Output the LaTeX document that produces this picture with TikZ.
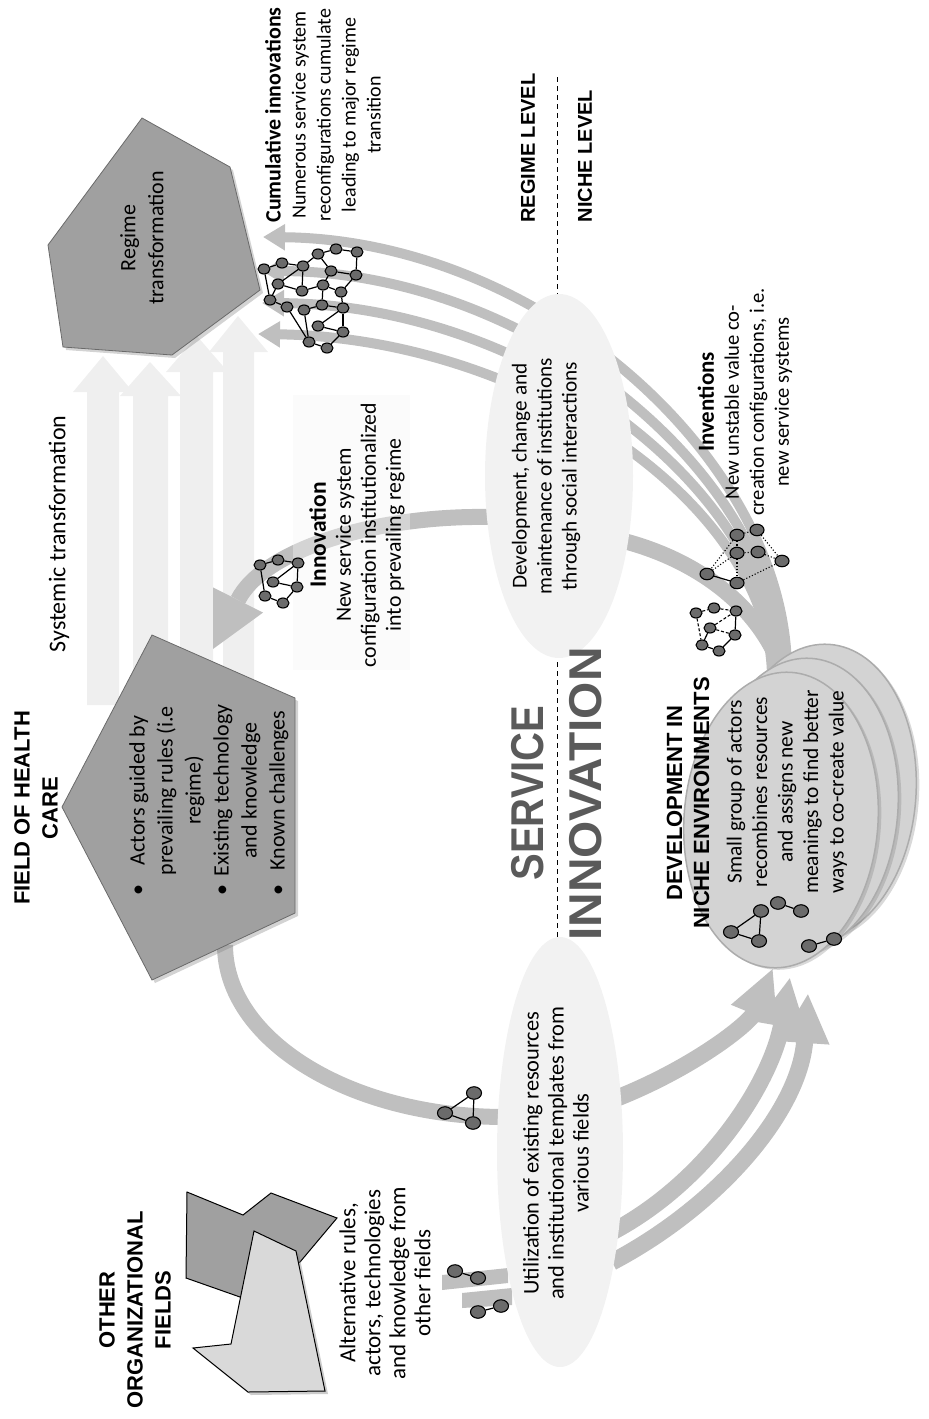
\documentclass[tikz,border=0pt]{standalone}
\usepackage{fontspec}
\setmainfont{Carlito}
\newfontfamily\arialfont{Liberation Sans}
\usetikzlibrary{shapes.geometric,arrows.meta,shadows,calc}

\definecolor{bandgray}{HTML}{BFBFBF}
\definecolor{pentfill}{HTML}{A0A0A0}
\definecolor{pentline}{HTML}{6A6A6A}
\definecolor{ovalfill}{HTML}{F2F2F2}
\definecolor{nichefill}{HTML}{D3D3D3}
\definecolor{nicheline}{HTML}{ACACAC}
\definecolor{netgray}{HTML}{6B6B6B}
\definecolor{stripefill}{HTML}{EFEFEF}
\definecolor{panelfill}{HTML}{F4F4F4}
\definecolor{titlegray}{HTML}{5A5A5A}
\definecolor{lightfield}{HTML}{D9D9D9}

\newcommand{\fsz}[1]{\fontsize{#1}{25}\selectfont}

\begin{document}
\begin{tikzpicture}[x=1pt,y=-1pt,
  txt/.style={rotate=90, align=center, font=\fsz{21}, inner sep=0pt},
  captitle/.style={rotate=90, align=center, font=\arialfont\bfseries\fontsize{22}{28}\selectfont, inner sep=0pt},
  band/.style={draw=bandgray, line width=16pt, line cap=butt},
  thinband/.style={draw=bandgray, line width=10pt, line cap=butt, -{Triangle[length=22pt,width=25pt]}},
  bigarrow/.style={draw=bandgray, line width=17pt, line cap=butt, -{Triangle[length=50pt,width=46pt]}},
  stripe/.style={fill=stripefill, draw=none},
  pentagon/.style={fill=pentfill, draw=pentline, line width=0.8pt,
    drop shadow={shadow xshift=3pt, shadow yshift=-3pt, opacity=0.35}},
  oval/.style={ellipse, fill=ovalfill, draw=none, inner sep=0pt},
  nicheoval/.style={ellipse, fill=nichefill, draw=nicheline, line width=1.5pt, inner sep=0pt,
    minimum width=194pt, minimum height=296pt, rotate=-4,
    drop shadow={shadow xshift=3pt, shadow yshift=-2pt, opacity=0.3}},
  act/.style={ellipse, draw=black, fill=netgray, line width=1.1pt, minimum width=15pt, minimum height=12.5pt, inner sep=0pt},
  acts/.style={act, minimum width=12pt, minimum height=10pt},
  tie/.style={draw=black, line width=1.2pt},
  weak/.style={draw=black, line width=1.1pt, dotted},
  loose/.style={draw=black, line width=1.1pt, dash pattern=on 3pt off 2pt},
]
\useasboundingbox (0,0) rectangle (929,1419);

% ---------- systemic transformation: pale upward arrows ----------
\path[stripe] (87,705) -- (87,392) -- (73,392) -- (103,356) -- (133,392) -- (119,392) -- (119,705) -- cycle;
\path[stripe] (133,705) -- (133,396) -- (120,396) -- (150,362) -- (181,396) -- (168,396) -- (168,705) -- cycle;
\path[stripe] (180,705) -- (180,372) -- (166,372) -- (197,336) -- (228,372) -- (213,372) -- (213,705) -- cycle;
\path[stripe] (223,705) -- (223,352) -- (209,352) -- (238,316) -- (268,352) -- (254,352) -- (254,705) -- cycle;

% ---------- main loop bands ----------
\coordinate (fieldOut) at (225,945);
\coordinate (utilIn) at (505,1117);
\draw[band] (fieldOut) .. controls (225,1040) and (350,1117) .. (utilIn);

% stubs entering from other fields
\fill[bandgray] (442,1275) -- (508,1268) -- (508,1283) -- (442,1290) -- cycle;
\fill[bandgray] (462,1293) -- (512,1288) -- (512,1305) -- (462,1308) -- cycle;

% utilization -> niche
\draw[bigarrow] (612,1100) .. controls (690,1070) and (750,1024) .. (773,968);
\draw[bigarrow] (612,1232) .. controls (710,1180) and (772,1080) .. (790,977);
\draw[bigarrow] (612,1262) .. controls (720,1205) and (800,1110) .. (808,993);

% niche -> regime (cumulative innovations)
\draw[thinband] (787,672) .. controls (787,460) and (540,240) .. (263,237);
\draw[thinband] (782,674) .. controls (782,478) and (535,272) .. (262,271);
\draw[thinband] (777,676) .. controls (777,492) and (532,305) .. (262,303);
\draw[thinband] (772,678) .. controls (772,505) and (528,338) .. (258,334);

% niche -> development oval
\draw[band] (785,680) .. controls (765,610) and (700,560) .. (620,540);

% development oval -> field of health care
\coordinate (headBase) at (238,600);
\draw[band] (490,517) .. controls (370,515) and (262,552) .. (headBase);
\fill[bandgray] (263,612.6) -- (213,587.4) -- (213,649) -- cycle;

% pale panel behind the innovation text
\fill[panelfill, opacity=0.4] (293,395) rectangle (410,670);

% level divider
\coordinate (divTop) at (557,77);
\coordinate (divBot) at (557,940);
\draw[line width=0.9pt, dash pattern=on 5pt off 4pt] (divTop) -- (divBot);

% ---------- ovals ----------
\node[oval, minimum width=148pt, minimum height=364pt] (dev) at (559,476) {};
\node[oval, minimum width=126pt, minimum height=430pt] (util) at (560,1152) {};

% ---------- fields ----------
\path[pentagon] (142,118) -- (230,167) -- (260,290) -- (172,355) -- (63,347) -- (48,245) -- cycle;
\path[pentagon] (152,635) -- (295,698) -- (295,913) -- (152,980) -- (62,807) -- cycle;

\path[fill=pentfill, draw=black, line width=1pt] (187,1192) -- (243,1215) -- (271,1193) -- (337,1218) -- (300,1262) -- (240,1297) -- (186,1278) -- cycle;
\path[fill=lightfield, draw=black, line width=1pt, drop shadow={shadow xshift=3pt, shadow yshift=-3pt, opacity=0.4}]
  (254,1231) -- (296,1251) -- (325,1391) -- (248,1392) -- (193,1348) -- (231,1344) -- cycle;

% ---------- niche environments ----------
\node[nicheoval] (nicheC) at (819,792) {};
\node[nicheoval] (nicheB) at (801,806) {};
\node[nicheoval] (nicheA) at (781,820) {};

% ---------- actor networks ----------
% cumulative cluster
\foreach \n/\p in {1/{(264,269)},2/{(282,263)},3/{(303,266)},4/{(318,254)},5/{(336,249)},6/{(357,252)},
  7/{(331,271)},8/{(356,275)},9/{(278,284)},10/{(302,291)},11/{(323,285)},12/{(341,292)},
  13/{(270,300)},14/{(287,307)},15/{(304,310)},16/{(322,305)},17/{(343,308)},18/{(318,326)},
  19/{(343,332)},20/{(309,342)},21/{(327,348)}}
  \node[acts] (r\n) at \p {};
\foreach \a/\b in {1/2,2/3,3/4,4/5,5/6,6/8,8/12,4/7,7/8,7/11,3/9,3/10,9/10,10/11,11/12,1/13,9/13,
  13/14,14/20,11/16,16/17,12/17,17/18,17/19,18/19,19/21,20/21,15/20,15/16}
  \draw[tie] (r\a) -- (r\b);

% institutionalized innovation
\foreach \n/\p in {1/{(260,565)},2/{(278,560)},3/{(298,563)},4/{(273,582)},5/{(297,587)},6/{(265,596)},7/{(283,603)}}
  \node[acts] (n\n) at \p {};
\foreach \a/\b in {1/2,2/3,3/5,1/6,4/3,4/5,6/7,7/5}
  \draw[tie] (n\a) -- (n\b);

% inventions (unstable)
\foreach \n/\p in {1/{(737,535)},2/{(757,530)},3/{(737,553)},4/{(758,552)},5/{(782,561)},6/{(707,574)},7/{(737,583)}}
  \node[act, minimum width=14pt, minimum height=11.5pt] (v\n) at \p {};
\foreach \a/\b in {1/2,2/5,1/6,3/6,3/7,3/4,4/5,7/5,1/3}
  \draw[weak] (v\a) -- (v\b);
\draw[tie] (v6) -- (v7);

\foreach \n/\p in {1/{(696,613)},2/{(714,608)},3/{(736,611)},4/{(710,628)},5/{(735,635)},6/{(702,645)},7/{(719,651)}}
  \node[acts] (w\n) at \p {};
\foreach \a/\b in {1/2,2/3,1/6,4/3,4/5}
  \draw[loose] (w\a) -- (w\b);
\foreach \a/\b in {3/5,6/7,7/5,6/4}
  \draw[tie] (w\a) -- (w\b);

% resources drawn from the field and from other fields
\node[act] (u1) at (445,1113) {};
\node[act] (u2) at (474,1093) {};
\node[act] (u3) at (473,1123) {};
\draw[tie] (u1) -- (u2) -- (u3) -- (u1);
\node[act] (p1) at (455,1271) {};
\node[act] (p2) at (478,1278) {};
\draw[tie] (p1) -- (p2);
\node[act] (p3) at (478,1312) {};
\node[act] (p4) at (501,1306) {};
\draw[tie] (p3) -- (p4);

% small groups in the niche
\node[act] (t1) at (731,932) {};
\node[act] (t2) at (761,911) {};
\node[act] (t3) at (759,941) {};
\draw[tie] (t1) -- (t2) -- (t3) -- (t1);
\node[act] (q1) at (778,903) {};
\node[act] (q2) at (801,911) {};
\draw[tie] (q1) -- (q2);
\node[act] (q3) at (809,946) {};
\node[act] (q4) at (834,939) {};
\draw[tie] (q3) -- (q4);

% ---------- texts ----------
\node[captitle] (fieldTitle) at (36,808) {FIELD OF HEALTH\\CARE};
\node[txt, font=\fsz{24}] (systemic) at (59,534) {Systemic transformation};
\node[txt, font=\fontsize{22}{28}\selectfont] (regimeTxt) at (142,238) {Regime\\transformation};
\node[rotate=90, inner sep=0pt, font=\fontsize{22}{28}\selectfont] (fieldTxt) at (209,800)
  {\begin{tabular}{@{}c@{\hspace{8pt}}c@{}}
   \textbullet & Actors guided by\\
               & prevailing rules (i.e\\
               & regime)\\
   \textbullet & Existing technology\\
               & and knowledge\\
   \textbullet & Known challenges
   \end{tabular}};
\node[txt, font=\fsz{20}] (cumTxt) at (323,115) {{\bfseries\fontsize{22}{25}\selectfont Cumulative innovations}\\
  Numerous service system\\reconfigurations cumulate\\leading to major regime\\transition};
\node[txt, font=\fsz{21.8}] (innoTxt) at (357,535) {{\bfseries\fontsize{23.5}{25}\selectfont Innovation}\\
  New service system\\configuration institutionalized\\into prevailing regime};
\node[captitle, font=\arialfont\bfseries\fontsize{20}{24}\selectfont] (regimeLevel) at (528,148) {REGIME LEVEL};
\node[captitle, font=\arialfont\bfseries\fontsize{20}{24}\selectfont] (nicheLevel) at (585,156) {NICHE LEVEL};
\node[txt, font=\fsz{21.2}] (devTxt) at (546,476) {Development, change and\\maintenance of institutions\\through social interactions};
\node[txt, font=\fsz{20.6}] (invTxt) at (745,402) {{\bfseries\fontsize{23}{25}\selectfont Inventions}\\
  New unstable value co-\\creation configurations, i.e.\\new service systems};
\node[rotate=90, inner sep=0pt, text=titlegray, font=\arialfont\bfseries\fontsize{46}{50}\selectfont] (service) at (528,793) {\scalebox{0.87}[1]{SERVICE}};
\node[rotate=90, inner sep=0pt, text=titlegray, font=\arialfont\bfseries\fontsize{46}{50}\selectfont] (innovation) at (586,794) {\scalebox{1.04}[1]{INNOVATION}};
\node[captitle, font=\arialfont\bfseries\fontsize{22}{27}\selectfont] (nicheTitle) at (688,803) {DEVELOPMENT IN\\NICHE ENVIRONMENTS};
\node[txt, font=\fontsize{21.4}{25.5}\selectfont] (nicheTxt) at (787,792) {Small group of actors\\recombines resources\\and assigns new\\meanings to find better\\ways to co-create value};
\node[txt, font=\fsz{22.4}] (utilTxt) at (556,1153) {Utilization of existing resources\\and institutional templates from\\various fields};
\node[captitle] (otherTitle) at (135,1310) {OTHER\\ORGANIZATIONAL\\FIELDS};
\node[txt, font=\fontsize{23}{25}\selectfont] (otherTxt) at (385,1283) {Alternative rules,\\actors, technologies\\and knowledge from\\other fields};
\end{tikzpicture}
\end{document}
